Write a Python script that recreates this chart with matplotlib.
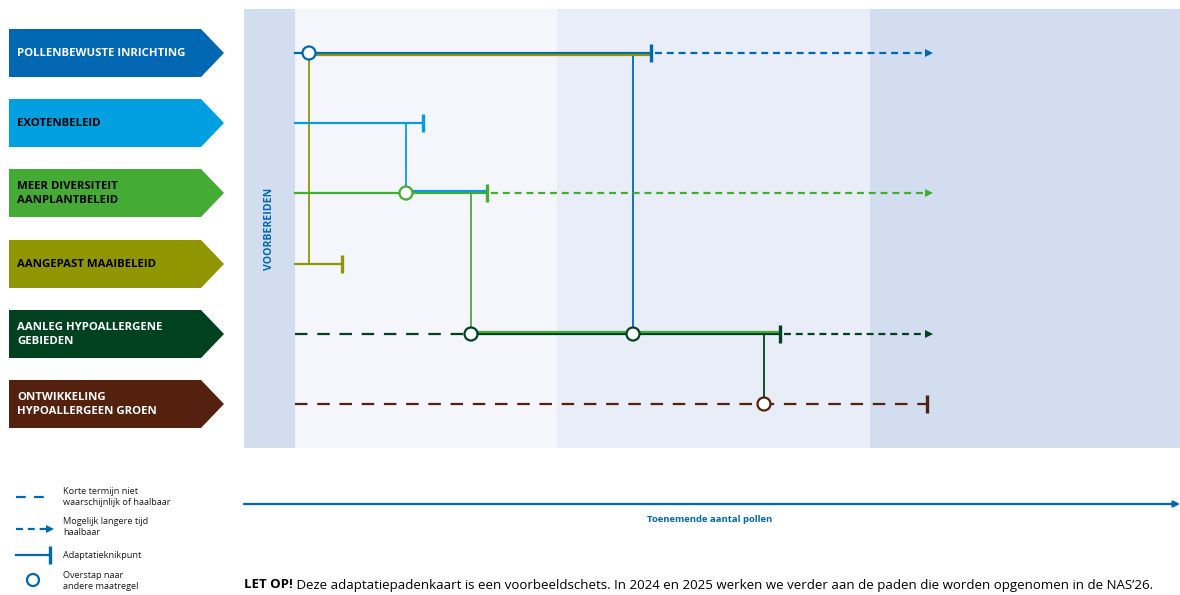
import matplotlib
matplotlib.use('Agg')
import matplotlib.pyplot as plt
from matplotlib.patches import Polygon, Rectangle, Circle
from matplotlib import font_manager

plt.rcParams['lines.scale_dashes'] = False

names = [f.name for f in font_manager.fontManager.ttflist]
narrow = 'Liberation Sans Narrow' if 'Liberation Sans Narrow' in names else 'Open Sans'

# maatregelen (rijen van boven naar beneden)
measures = ['POLLENBEWUSTE INRICHTING', 'EXOTENBELEID', 'MEER DIVERSITEIT\nAANPLANTBELEID',
            'AANGEPAST MAAIBELEID', 'AANLEG HYPOALLERGENE\nGEBIEDEN',
            'ONTWIKKELING\nHYPOALLERGEEN GROEN']
colors = ['#0068b3', '#00a0e0', '#44ac34', '#8f9600', '#00421f', '#55210f']
text_colors = ['white', 'black', 'black', 'black', 'white', 'white']
row_y = [53, 123, 193, 264, 334, 404]

# pad per maatregel: begin solide deel, knikpunt, einde van 'langere tijd' pijl
dashed_from = [None, None, None, None, 295, 295]
solid_from = [295, 295, 295, 295, 471, None]
tip_x = [651, 423, 487, 342, 780, 927]
arrow_to = [932, None, 932, None, 932, None]

# overstappen: (van rij, naar rij, x, meelopen tot knikpunt?)
transfers = [(3, 0, 309, True), (1, 2, 406, True), (2, 4, 471, True),
             (0, 4, 633, False), (4, 5, 764, False)]

bands = [(244, 295, '#d3ddf0'), (295, 557, '#f4f6fb'), (557, 870, '#e8edf7'), (870, 1180, '#d3ddf0')]

fig = plt.figure(figsize=(11.8, 5.95), dpi=100)
ax = fig.add_axes([0, 0, 1, 1])
ax.set_xlim(0, 1180)
ax.set_ylim(595, 0)
ax.axis('off')

for x0, x1, c in bands:
    ax.add_patch(Rectangle((x0, 9), x1 - x0, 439, color=c, lw=0, zorder=0))

ax.text(270, 229, 'VOORBEREIDEN', rotation=90, ha='center', va='center', color='#0068b3',
        fontsize=7.6, fontweight='bold', family='Open Sans')

# pijlen met namen
for i, name in enumerate(measures):
    y = row_y[i]
    pts = [(9, y - 24), (201, y - 24), (224, y), (201, y + 24), (9, y + 24)]
    ax.add_patch(Polygon(pts, closed=True, color=colors[i], lw=0, zorder=1))
    ax.text(17, y + 0.5, name, ha='left', va='center', color=text_colors[i], fontsize=8.2,
            fontweight='bold', family='Open Sans', linespacing=1.4)

lw = 1.6
long_dash = (9, 7)
short_dash = (5, 3.5)

for i in range(len(measures)):
    y = row_y[i]
    c = colors[i]
    if dashed_from[i] is not None:
        end = solid_from[i] if solid_from[i] is not None else tip_x[i]
        ax.plot([dashed_from[i], end], [y, y], color=c, lw=lw, dashes=long_dash, zorder=3)
    if solid_from[i] is not None:
        ax.plot([solid_from[i], tip_x[i]], [y, y], color=c, lw=lw, zorder=3)
    ax.plot([tip_x[i], tip_x[i]], [y - 9, y + 9], color=c, lw=2.4, zorder=4, solid_capstyle='butt')
    if arrow_to[i] is not None:
        ax.plot([tip_x[i] + 4, arrow_to[i] - 6], [y, y], color=c, lw=lw, dashes=short_dash, zorder=3)
        ax.plot(arrow_to[i] - 3, y, marker='>', color=c, ms=5.5, mew=0, zorder=3)

for src, dst, x, follow in transfers:
    c = colors[src]
    y0, y1 = row_y[src], row_y[dst]
    off = 2.4 if y1 < y0 else -2.4
    ax.plot([x, x], [y0, y1], color=c, lw=1.3, zorder=2)
    if follow:
        ax.plot([x, tip_x[dst]], [y1 + off, y1 + off], color=c, lw=lw, zorder=3)
    ax.add_patch(Circle((x, y1), 6.5, facecolor='white', edgecolor=colors[dst], lw=1.6, zorder=6))

# as onderaan
ax.annotate('', xy=(1180, 504), xytext=(244, 504),
            arrowprops=dict(arrowstyle='-|>', color='#0068b3', lw=1.6, mutation_scale=9,
                            shrinkA=0, shrinkB=0))
ax.text(710, 520, 'Toenemende aantal pollen', ha='center', va='center', color='#0068b3',
        fontsize=6.8, fontweight='bold', family=narrow)

# legenda
leg_c = '#0068b3'
ax.plot([16, 50], [497, 497], color=leg_c, lw=lw, dashes=(7, 6))
ax.plot([16, 47], [529, 529], color=leg_c, lw=lw, dashes=short_dash)
ax.plot(50, 529, marker='>', color=leg_c, ms=5.5, mew=0)
ax.plot([16, 50], [555, 555], color=leg_c, lw=lw)
ax.plot([50, 50], [546, 564], color=leg_c, lw=2.4, solid_capstyle='butt')
ax.add_patch(Circle((33, 580), 6, facecolor='white', edgecolor=leg_c, lw=1.6))
legend_txt = ['Korte termijn niet\nwaarschijnlijk of haalbaar', 'Mogelijk langere tijd\nhaalbaar',
              'Adaptatieknikpunt', 'Overstap naar\nandere maatregel']
for t, y in zip(legend_txt, [497, 527, 555, 581]):
    ax.text(63, y, t, ha='left', va='center', fontsize=6.6, family='Open Sans',
            color='#1a1a1a', linespacing=1.2)

t1 = ax.text(244, 585, 'LET OP!', ha='left', va='center', fontsize=9.5, fontweight='bold',
             family=narrow, color='black')
ax.annotate(' Deze adaptatiepadenkaart is een voorbeeldschets. In 2024 en 2025 werken we verder '
            'aan de paden die worden opgenomen in de NAS\u201926.', xy=(1, 0.5), xycoords=t1,
            ha='left', va='center', fontsize=9.5, family=narrow, color='black')

fig.savefig('out.png', dpi=100)
